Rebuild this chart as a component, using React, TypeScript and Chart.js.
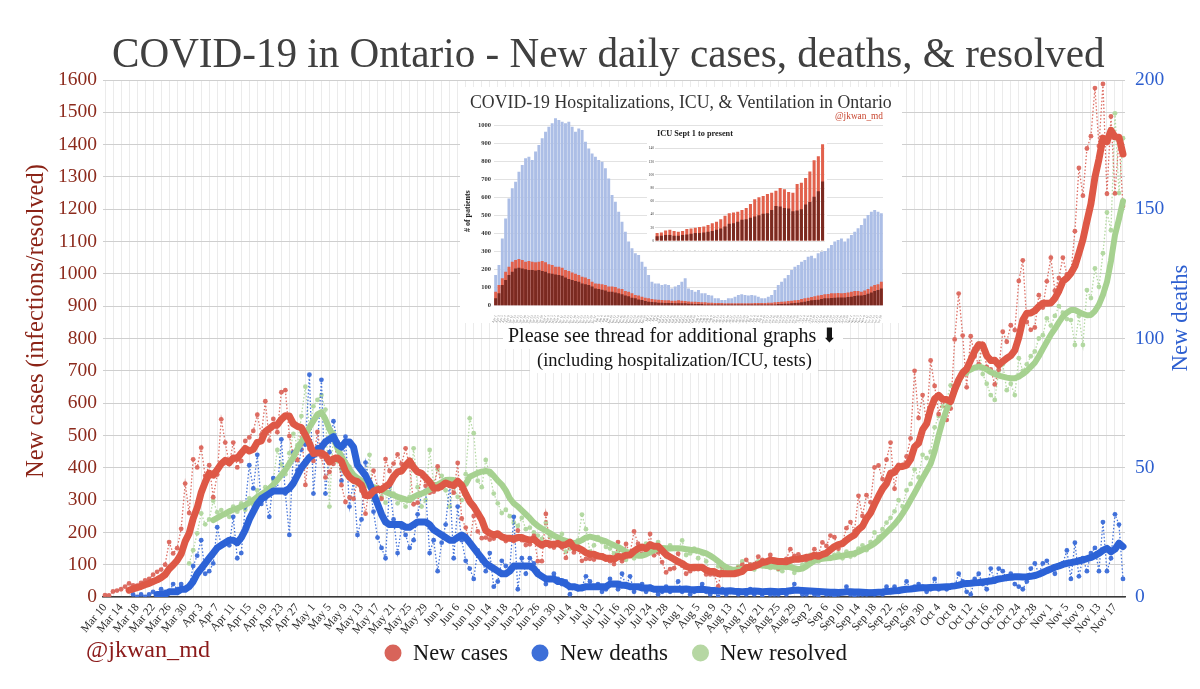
import React, { useEffect, useRef } from 'react';
import { Chart, registerables } from 'chart.js';
Chart.register(...registerables);

const SERIF = "'Liberation Serif', 'DejaVu Serif', serif";

// ---------- labels ----------
const MONTHS = ['Jan', 'Feb', 'Mar', 'Apr', 'May', 'Jun', 'Jul', 'Aug', 'Sep', 'Oct', 'Nov', 'Dec'];
const MONTH_DAYS_2020 = [31, 29, 31, 30, 31, 30, 31, 31, 30, 31, 30, 31];
function makeDates(month: number, day: number, count: number, step: number): string[] {
  const out: string[] = [];
  let m = month, d = day;
  for (let i = 0; i < count; i++) {
    out.push(`${MONTHS[m]} ${d}`);
    d += step;
    while (d > MONTH_DAYS_2020[m]) { d -= MONTH_DAYS_2020[m]; m++; }
  }
  return out;
}
const DAYS = makeDates(2, 10, 255, 1); // Mar 10 .. Nov 19
const INSET_DATES = makeDates(3, 1, 117, 2);
const ICU_DATES = makeDates(8, 1, 40, 2);

const TITLE = 'COVID-19 in Ontario - New daily cases, deaths, & resolved';
const Y_TITLE = 'New cases (infections/resolved)';
const Y2_TITLE = 'New deaths';
const LEGEND_LABELS = ['New cases', 'New deaths', 'New resolved'];
const CREDIT = '@jkwan_md';
const NOTE_1 = 'Please see thread for additional graphs \u2B07';
const NOTE_2 = '(including hospitalization/ICU, tests)';
const INSET_TITLE = 'COVID-19 Hospitalizations, ICU, & Ventilation in Ontario';
const ICU_TITLE = 'ICU Sept 1 to present';

// ---------- main series (Mar 10 .. Nov 19) ----------
const CASES = [
  6, 5, 17, 20, 24, 32, 42, 36, 35, 44, 51, 56, 69, 78, 85, 100, 170, 135, 151, 211, 351, 260,
  426, 401, 462, 375, 408, 309, 379, 550, 478, 411, 478, 401, 421, 483, 494, 514, 564, 502, 606, 484, 551, 510, 634, 640, 498, 437, 424, 525, 347, 459,
  421, 511, 434, 370, 387, 412, 477, 346, 294, 308, 304, 361, 329, 258, 345, 391, 340, 304, 427, 390, 413, 441, 412, 460, 404, 287, 292, 383, 344, 323, 326,
  404, 338, 356, 344, 323, 415, 243, 215, 167, 251, 203, 182, 184, 178, 181, 190, 184, 173, 183, 173, 206, 176, 161, 163, 189, 111, 111, 257, 157, 153,
  181, 153, 121, 165, 138, 154, 112, 118, 118, 116, 130, 129, 116, 111, 102, 170, 111, 164, 135, 203, 165, 134, 138, 195, 129, 138, 108, 76, 86, 89, 134,
  97, 72, 80, 86, 86, 88, 70, 70, 70, 33, 95, 75, 88, 72, 90, 99, 115, 100, 102, 125, 115, 108, 130, 105, 88, 100, 118, 148, 127, 132, 121,
  114, 111, 148, 132, 169, 158, 190, 185, 149, 170, 213, 232, 204, 313, 251, 315, 293, 401, 407, 365, 425, 478, 335, 409, 409, 435, 491, 700, 554, 625,
  538, 732, 653, 566, 615, 548, 583, 797, 939, 809, 649, 807, 746, 721, 783, 712, 704, 658, 704, 821, 790, 841, 826, 978, 1042, 851, 827, 834, 934, 896, 977,
  1050, 948, 987, 1050, 998, 1003, 1132, 1328, 1242, 1388, 1426, 1575, 1396, 1588, 1248, 1487, 1249, 1417, 1210,
];
const CASES_AVG = [
  null, null, null, null, null, null,
  21, 25, 29, 33, 38, 42, 48, 53, 60, 69, 87, 99, 113, 133, 172, 197,
  243, 276, 323, 355, 383, 377, 394, 412, 423, 416, 430, 429, 445, 460, 452, 457, 479, 483, 512, 521, 531, 533, 550, 561, 560, 536, 528, 524, 501, 476,
  444, 446, 446, 438, 418, 428, 430, 420, 389, 371, 361, 357, 346, 314, 314, 328, 333, 333, 342, 351, 373, 387, 390, 407, 421, 401, 387, 383, 369, 356, 337,
  337, 344, 353, 348, 345, 358, 346, 319, 295, 280, 260, 239, 206, 197, 192, 196, 186, 182, 182, 180, 184, 184, 179, 176, 179, 168, 160, 167, 164, 163,
  166, 160, 162, 170, 153, 152, 146, 137, 132, 132, 127, 125, 120, 120, 117, 125, 124, 129, 130, 142, 150, 155, 150, 162, 157, 157, 144, 131, 124, 117, 109,
  104, 95, 91, 92, 92, 92, 83, 79, 79, 72, 73, 72, 72, 72, 75, 79, 91, 91, 95, 100, 107, 109, 114, 112, 110, 110, 109, 114, 117, 117, 119,
  123, 124, 129, 126, 132, 136, 146, 156, 162, 165, 176, 185, 192, 209, 219, 243, 260, 287, 312, 335, 351, 383, 386, 403, 404, 408, 426, 465, 476, 518,
  536, 582, 613, 624, 612, 611, 605, 642, 672, 694, 706, 733, 761, 781, 779, 747, 732, 733, 718, 729, 739, 747, 763, 803, 857, 878, 879, 886, 899, 909, 909,
  910, 924, 947, 977, 987, 1002, 1024, 1064, 1106, 1163, 1217, 1299, 1355, 1420, 1409, 1444, 1424, 1423, 1371,
];
const DEATHS = [
  null, null, null, null, null, null, null,
  1, 0, 1, 0, 1, 2, 1, 3, 2, 2, 5, 3, 5, 3, 4,
  12, 16, 22, 9, 10, 13, 27, 20, 21, 20, 31, 15, 17, 35, 51, 42, 55, 36, 38, 31, 46, 41, 61, 40, 24, 56, 49, 57, 59, 86,
  40, 58, 84, 40, 56, 68, 60, 45, 62, 35, 45, 24, 30, 52, 44, 33, 23, 19, 15, 43, 30, 17, 27, 24, 19, 22, 32, 40, 41, 17, 22,
  10, 21, 28, 44, 15, 35, 22, 14, 11, 7, 18, 14, 10, 17, 4, 6, 14, 12, 11, 31, 3, 15, 9, 15, 13, 10, 8, 5, 7, 9,
  7, 5, 6, 1, 4, 3, 4, 8, 6, 4, 5, 2, 3, 7, 5, 3, 9, 4, 8, 2, 4, 5, 2, 4, 3, 1, 2, 4, 2, 3, 6,
  2, 3, 1, 2, 3, 5, 2, 1, 2, 0, 3, 1, 2, 2, 1, 2, 1, 3, 1, 2, 0, 2, 1, 1, 1, 2, 1, 2, 5, 3, 1,
  1, 2, 1, 0, 2, 1, 1, 0, 1, 2, 4, 1, 0, 1, 1, 1, 2, 1, 2, 1, 4, 2, 4, 2, 3, 6, 3, 4, 5, 4,
  2, 3, 7, 3, 4, 3, 4, 4, 9, 6, 2, 1, 7, 9, 5, 3, 11, 6, 11, 10, 7, 9, 5, 4, 3, 6, 11, 13, 9, 13, 14,
  11, 9, 12, 13, 18, 7, 21, 8, 15, 10, 17, 19, 10, 29, 10, 15, 32, 28, 7,
];
const DEATHS_AVG = [
  null, null, null, null, null, null, null, null, null, null, null, null, null,
  1, 1, 1, 2, 2, 2, 3, 3, 4,
  6, 9, 11, 13, 15, 17, 19, 20, 21, 22, 22, 21, 23, 26, 30, 33, 36, 38, 39, 40, 41, 41, 41, 41, 42, 44, 47, 50, 52, 54,
  55, 57, 58, 60, 61, 62, 59, 58, 60, 60, 58, 51, 49, 47, 44, 40, 36, 32, 29, 28, 28, 28, 28, 27, 27, 28, 29, 29, 29, 28, 26,
  25, 24, 23, 22, 22, 23, 24, 23, 21, 19, 17, 15, 13, 12, 11, 10, 9, 9, 10, 12, 12, 12, 12, 12, 11, 9, 8, 7, 7, 7,
  6, 6, 5, 4, 4, 3.5, 3.5, 4, 4, 4, 4, 4, 4, 5, 5, 5, 4.5, 4.5, 4, 4, 4, 3.5, 3.5, 3.5, 3, 3, 3, 3, 3, 3, 3,
  3, 3.1, 2.9, 2.8, 2.9, 3, 2.8, 2.6, 2.5, 2.3, 2.2, 2.3, 2.4, 2.2, 2.1, 2, 2.1, 2.2, 2.3, 2.2, 2, 2.1, 2.2, 2.1, 2, 2.1, 2.2, 2.4, 2.6, 2.6, 2.5,
  2.4, 2.3, 2.2, 2.1, 2, 1.9, 1.8, 1.8, 1.7, 1.8, 2, 2, 1.9, 1.9, 1.8, 1.7, 1.6, 1.7, 1.8, 1.9, 2.1, 2.2, 2.4, 2.5, 2.8, 3, 3.1, 3.3, 3.5, 3.6,
  3.6, 3.7, 3.8, 3.8, 3.9, 4, 4.1, 4.3, 4.6, 5, 5.2, 5.3, 5.5, 5.6, 5.8, 6, 6.2, 6.5, 7, 7.2, 7.5, 7.6, 7.8, 7.8, 7.7, 7.8, 8, 8.3, 8.8, 9.5, 10.2,
  10.8, 11.5, 12, 12.6, 13, 13.3, 13.6, 14, 14.3, 14.8, 15.3, 16, 16.9, 18, 18.8, 17.5, 18.5, 20.8, 19.5,
];
const RESOLVED = [
  null, null, null, null, null, null, null, null, null, null, null, null, null, null, null, null, null, null, null, null, null,
  104, 145, 197, 259, 225, 240, 298, 262, 269, 255, 248, 280, 264, 290, 270, 305, 285, 330, 300, 340, 318, 362, 455, 410, 380, 445, 505, 470, 560, 651, 525,
  590, 610, 625, 580, 280, 510, 420, 395, 380, 403, 372, 350, 345, 360, 440, 300, 330, 310, 292, 340, 320, 290, 300, 280, 310, 460, 340, 280, 300, 455, 350,
  395, 375, 330, 280, 340, 310, 300, 380, 553, 507, 360, 340, 424, 380, 320, 290, 260, 270, 250, 230, 220, 245, 210, 215, 200, 190, 180, 230, 185, 160,
  170, 195, 140, 150, 170, 175, 255, 210, 140, 160, 185, 170, 155, 150, 135, 140, 125, 115, 140, 120, 140, 150, 165, 155, 160, 170, 145, 125, 160, 150, 148,
  175, 130, 135, 150, 120, 135, 110, 80, 75, 95, 85, 75, 70, 80, 95, 110, 90, 100, 85, 110, 95, 100, 90, 115, 85, 80, 90, 100, 75, 88, 100,
  105, 130, 115, 110, 125, 120, 118, 130, 135, 120, 140, 125, 130, 150, 160, 145, 170, 200, 185, 210, 230, 245, 265, 300, 280, 330, 350, 395, 370, 440,
  430, 450, 525, 560, 590, 610, 655, 650, 660, 700, 690, 740, 760, 785, 690, 660, 625, 610, 700, 720, 640, 660, 625, 739, 700, 720, 745, 760, 800, 810, 862,
  840, 870, 900, 880, 860, 857, 780, 870, 780, 950, 925, 1017, 960, 1064, 1190, 1135, 1497, 1250, 1420,
];
const RESOLVED_AVG = [
  null, null, null, null, null, null, null, null, null, null, null, null, null, null, null, null, null, null, null, null, null, null, null, null, null, null, null,
  238, 245, 252, 258, 265, 270, 274, 280, 285, 292, 300, 310, 318, 326, 336, 348, 362, 378, 393, 413, 432, 458, 480, 500, 525,
  545, 565, 572, 550, 520, 495, 460, 435, 415, 395, 378, 368, 360, 352, 342, 340, 336, 330, 325, 320, 315, 310, 306, 302, 300, 310, 316, 320, 325, 332, 341,
  348, 355, 362, 363, 362, 355, 345, 350, 372, 378, 384, 388, 390, 388, 375, 360, 348, 330, 305, 290, 280, 268, 256, 244, 230, 220, 212, 205, 198, 190,
  184, 178, 174, 170, 166, 170, 176, 184, 187, 184, 180, 176, 172, 166, 160, 155, 148, 140, 135, 132, 128, 128, 132, 138, 145, 150, 152, 151, 150, 151, 151,
  150, 148, 146, 145, 143, 139, 135, 128, 120, 110, 100, 92, 86, 84, 85, 87, 89, 92, 95, 99, 98, 96, 95, 94, 94, 94, 94, 92, 89, 86, 88,
  95, 104, 112, 116, 118, 120, 121, 123, 125, 128, 130, 133, 135, 140, 146, 151, 158, 166, 176, 188, 200, 212, 225, 240, 258, 278, 300, 322, 345, 368,
  390, 412, 450, 500, 545, 580, 610, 640, 670, 690, 698, 704, 710, 713, 710, 704, 696, 690, 685, 682, 679, 677, 677, 682, 690, 700, 712, 725, 745, 768, 790,
  812, 830, 850, 868, 880, 888, 888, 882, 876, 872, 873, 885, 905, 935, 975, 1040, 1120, 1170, 1225,
];

// ---------- inset: hospital / ICU / ventilated (every 2nd day from Apr 1) ----------
const HOSP = [
  170, 226, 374, 485, 596, 652, 689, 744, 781, 819, 828, 809, 856, 893, 930, 967, 994, 1013, 1041, 1031,
  1022, 1013, 1022, 994, 967, 985, 976, 911, 874, 846, 828, 809, 800, 763, 707, 615, 578, 522, 467, 411,
  356, 319, 291, 281, 244, 217, 170, 133, 124, 124, 115, 119, 115, 96, 106, 115, 133, 152, 96, 87,
  78, 87, 69, 69, 59, 56, 41, 41, 31, 31, 41, 41, 50, 59, 63, 59, 56, 59, 56, 50,
  41, 41, 50, 59, 87, 115, 133, 152, 170, 198, 217, 226, 244, 254, 272, 278, 263, 291, 300, 309,
  319, 337, 356, 365, 374, 356, 374, 393, 411, 430, 448, 485, 504, 522, 531, 522, 513,
];
const ICU = [
  78, 115, 152, 189, 217, 244, 254, 259, 254, 244, 248, 244, 241, 244, 248, 241, 230, 226, 217, 217,
  211, 198, 193, 185, 178, 170, 161, 156, 148, 133, 124, 122, 119, 115, 106, 106, 104, 96, 93, 81,
  78, 69, 59, 56, 50, 44, 41, 37, 35, 33, 31, 30, 30, 28, 28, 30, 28, 26, 24, 22,
  22, 20, 19, 19, 17, 17, 15, 15, 15, 13, 13, 13, 13, 13, 13, 13, 13, 13, 15, 15,
  15, 15, 17, 17, 19, 20, 22, 24, 26, 28, 30, 31, 37, 41, 44, 48, 52, 56, 59, 63,
  65, 69, 69, 70, 69, 70, 74, 78, 81, 81, 78, 85, 93, 106, 115, 119, 133,
];
const VENT = [
  41, 69, 115, 143, 170, 189, 207, 211, 207, 202, 198, 198, 196, 198, 193, 189, 180, 178, 174, 170,
  167, 156, 148, 143, 137, 133, 124, 119, 115, 106, 96, 93, 89, 85, 78, 78, 74, 69, 63, 56,
  52, 44, 41, 35, 31, 26, 22, 20, 19, 17, 17, 15, 15, 15, 13, 13, 13, 13, 11, 11,
  9, 9, 9, 7, 7, 7, 7, 6, 6, 6, 6, 6, 6, 6, 6, 6, 6, 6, 6, 6,
  6, 6, 6, 7, 7, 9, 9, 11, 11, 13, 15, 17, 19, 22, 26, 30, 31, 33, 37, 41,
  41, 43, 44, 46, 46, 46, 48, 50, 54, 56, 56, 59, 67, 74, 81, 87, 96,
];
// inner inset: ICU since Sep 1 (every 2nd day)
const ICU_SEPT = [
  12, 13, 16, 17, 15, 14, 15, 18, 19, 20, 21, 22, 24, 27, 29, 33, 38, 42, 43, 44,
  47, 50, 56, 63, 66, 68, 71, 73, 76, 80, 78, 74, 73, 86, 88, 95, 105, 122, 128, 146,
];
const VENT_SEPT = [
  7, 8, 9, 9, 8, 8, 9, 10, 11, 12, 12, 13, 14, 15, 17, 19, 22, 26, 27, 29,
  32, 33, 35, 37, 39, 41, 42, 47, 53, 52, 50, 49, 45, 46, 48, 55, 59, 67, 75, 90,
];

// ---------- colours ----------
const RED = 'rgb(222,88,70)';
const RED_DOT = 'rgba(219,102,92,0.95)';
const BLUE = 'rgb(44,98,214)';
const BLUE_DOT = 'rgba(58,108,216,0.95)';
const GREEN = 'rgb(166,209,144)';
const GREEN_DOT = 'rgba(176,215,158,0.95)';
const HOSP_C = 'rgb(172,190,230)';
const ICU_C = 'rgb(226,97,76)';
const VENT_C = 'rgb(122,42,33)';

// ---------- helpers ----------
type FitOpts = { x: number; y: number; width: number; color: string; align?: CanvasTextAlign; baseline?: CanvasTextBaseline; rotate?: number; weight?: string };
function fitText(ctx: CanvasRenderingContext2D, text: string, o: FitOpts) {
  ctx.save();
  const w = o.weight || 'normal';
  ctx.font = `${w} 100px ${SERIF}`;
  const m = ctx.measureText(text).width;
  const size = (100 * o.width) / m;
  ctx.font = `${w} ${size}px ${SERIF}`;
  ctx.fillStyle = o.color;
  ctx.textAlign = o.align || 'left';
  ctx.textBaseline = o.baseline || 'alphabetic';
  ctx.translate(o.x, o.y);
  if (o.rotate) ctx.rotate(o.rotate);
  ctx.fillText(text, 0, 0);
  ctx.restore();
}

const mainOverlay = {
  id: 'mainOverlay',
  afterDraw(chart: any) {
    const ctx: CanvasRenderingContext2D = chart.ctx;
    fitText(ctx, TITLE, { x: 112, y: 67, width: 993, color: '#404040' });
    fitText(ctx, Y_TITLE, { x: 37, y: 321, width: 314, color: '#8b2316', align: 'center', baseline: 'middle', rotate: -Math.PI / 2 });
    fitText(ctx, Y2_TITLE, { x: 1181, y: 318, width: 107, color: '#2d5fd0', align: 'center', baseline: 'middle', rotate: -Math.PI / 2 });
    // legend
    const legendPos = [
      { cx: 393, tx: 413, tw: 95, c: 'rgb(216,100,90)' },
      { cx: 540, tx: 560, tw: 108, c: 'rgb(61,111,216)' },
      { cx: 700.5, tx: 720, tw: 127, c: 'rgb(182,215,163)' },
    ];
    legendPos.forEach((p, i) => {
      ctx.save();
      ctx.fillStyle = p.c;
      ctx.beginPath();
      ctx.arc(p.cx, 653, 8.5, 0, Math.PI * 2);
      ctx.fill();
      ctx.restore();
      fitText(ctx, LEGEND_LABELS[i], { x: p.tx, y: 660, width: p.tw, color: '#161616' });
    });
    fitText(ctx, CREDIT, { x: 86, y: 657, width: 124, color: '#8b1a1a' });
    // notes
    ctx.save();
    ctx.fillStyle = '#ffffff';
    ctx.fillRect(503, 324, 340, 25);
    ctx.fillRect(530, 349, 288, 24);
    ctx.restore();
    fitText(ctx, NOTE_1, { x: 508, y: 342, width: 330, color: '#151515' });
    fitText(ctx, NOTE_2, { x: 537, y: 366, width: 275, color: '#151515' });
  },
};

function mainConfig() {
  const dotted = (data: any[], color: string, axis: string) => ({
    data, yAxisID: axis, borderColor: color, backgroundColor: color, borderWidth: 1.3, borderDash: [1.5, 2],
    pointRadius: 2.4, pointBorderWidth: 0, pointBackgroundColor: color, tension: 0, spanGaps: false,
  });
  const thick = (data: any[], color: string, axis: string, w: number) => ({
    data, yAxisID: axis, borderColor: color, backgroundColor: color, borderWidth: w, pointRadius: 0,
    tension: 0, borderJoinStyle: 'round', borderCapStyle: 'round', spanGaps: false,
  });
  return {
    type: 'line',
    data: {
      labels: DAYS,
      datasets: [
        thick(CASES_AVG, RED, 'y', 7),
        thick(DEATHS_AVG, BLUE, 'y2', 7),
        thick(RESOLVED_AVG, GREEN, 'y', 6),
        dotted(CASES, RED_DOT, 'y'),
        dotted(DEATHS, BLUE_DOT, 'y2'),
        dotted(RESOLVED, GREEN_DOT, 'y'),
      ],
    },
    options: {
      responsive: false,
      animation: false,
      events: [],
      layout: { padding: { left: 0, right: 0, top: 80, bottom: 0 }, autoPadding: false },
      plugins: { legend: { display: false }, tooltip: { enabled: false }, title: { display: false } },
      scales: {
        x: {
          type: 'category',
          offset: true,
          grid: {
            color: (c: any) => (c.index % 2 === 0 ? '#ebebeb' : 'rgba(0,0,0,0)'),
            lineWidth: 1,
            drawTicks: false,
          },
          border: { display: true, color: '#3a3a3a', width: 1.5 },
          ticks: {
            autoSkip: false,
            minRotation: 50,
            maxRotation: 50,
            padding: 4,
            color: '#2a2a2a',
            font: { family: SERIF, size: 11.5 },
            callback: (_v: any, i: number) => (i % 4 === 0 ? DAYS[i] : ''),
          },
          afterFit: (s: any) => { s.height = 92; },
        },
        y: {
          position: 'left',
          min: 0,
          max: 1600,
          grid: { color: '#cfcfcf', lineWidth: 1, drawTicks: false },
          border: { display: false },
          ticks: {
            stepSize: 50,
            padding: 6,
            color: '#8c2a1c',
            font: { family: SERIF, size: 19.5 },
            callback: (v: any) => (v % 100 === 0 ? String(v) : ''),
          },
          afterFit: (s: any) => { s.width = 103; },
        },
        y2: {
          position: 'right',
          min: 0,
          max: 200,
          grid: { drawOnChartArea: false, drawTicks: false },
          border: { display: false },
          ticks: { stepSize: 50, padding: 10, color: '#2d5fcf', font: { family: SERIF, size: 19.5 } },
          afterFit: (s: any) => { s.width = 75; },
        },
      },
    },
    plugins: [mainOverlay],
  };
}

const insetOverlay = {
  id: 'insetOverlay',
  afterDraw(chart: any) {
    const ctx: CanvasRenderingContext2D = chart.ctx;
    fitText(ctx, INSET_TITLE, { x: 10, y: 20.7, width: 422, color: '#333333' });
    fitText(ctx, CREDIT, { x: 423, y: 31.5, width: 48, color: '#c8452f', align: 'right' });
  },
};

function insetConfig() {
  const bar = (data: number[], color: string) => ({
    type: 'bar', data, backgroundColor: color, borderWidth: 0, grouped: false, barPercentage: 1, categoryPercentage: 0.88,
  });
  return {
    type: 'bar',
    data: { labels: INSET_DATES, datasets: [bar(VENT, VENT_C), bar(ICU, ICU_C), bar(HOSP, HOSP_C)] },
    options: {
      responsive: false,
      animation: false,
      events: [],
      layout: { padding: { left: 0, right: 19, top: 29.7, bottom: 0 }, autoPadding: false },
      plugins: { legend: { display: false }, tooltip: { enabled: false } },
      scales: {
        x: {
          grid: { display: false },
          border: { display: false },
          ticks: { autoSkip: false, minRotation: 70, maxRotation: 70, padding: 1, color: '#777', font: { family: SERIF, size: 3.4 } },
          afterFit: (s: any) => { s.height = 17.3; },
        },
        y: {
          min: 0,
          max: 1050,
          grid: { color: '#e2e2e2', drawTicks: false },
          border: { display: false },
          ticks: { stepSize: 100, padding: 3, color: '#333', font: { family: SERIF, size: 6.5, weight: 'bold' }, callback: (v: any) => String(v) },
          afterBuildTicks: (s: any) => { s.ticks = s.ticks.filter((t: any) => t.value <= 1000); },
          title: { display: true, text: '# of patients', color: '#222', font: { family: SERIF, size: 8, weight: 'bold' }, padding: { top: 3, bottom: 0 } },
          afterFit: (s: any) => { s.width = 34; },
        },
      },
    },
    plugins: [insetOverlay],
  };
}

const icuOverlay = {
  id: 'icuOverlay',
  afterDraw(chart: any) {
    fitText(chart.ctx, ICU_TITLE, { x: 10, y: 8.7, width: 76, color: '#222', weight: 'bold' });
  },
};

function icuConfig() {
  const bar = (data: number[], color: string) => ({
    type: 'bar', data, backgroundColor: color, borderWidth: 0, grouped: false, barPercentage: 1, categoryPercentage: 0.72,
  });
  return {
    type: 'bar',
    data: { labels: ICU_DATES, datasets: [bar(VENT_SEPT, VENT_C), bar(ICU_SEPT, ICU_C)] },
    options: {
      responsive: false,
      animation: false,
      events: [],
      layout: { padding: { left: 0, right: 2, top: 14.7, bottom: 0 }, autoPadding: false },
      plugins: { legend: { display: false }, tooltip: { enabled: false } },
      scales: {
        x: {
          grid: { display: false },
          border: { display: false },
          ticks: { autoSkip: false, minRotation: 70, maxRotation: 70, padding: 1, color: '#777', font: { family: SERIF, size: 3 } },
          afterFit: (s: any) => { s.height = 10; },
        },
        y: {
          min: 0,
          max: 150,
          grid: { color: '#e0e0e0', drawTicks: false },
          border: { display: false },
          ticks: { stepSize: 10, padding: 1, color: '#333', font: { family: SERIF, size: 3.6 }, callback: (v: any) => String(v) },
          afterFit: (s: any) => { s.width = 8; },
        },
      },
    },
    plugins: [icuOverlay],
  };
}

export default function App() {
  const mainRef = useRef<HTMLCanvasElement>(null);
  const insetRef = useRef<HTMLCanvasElement>(null);
  const icuRef = useRef<HTMLCanvasElement>(null);

  useEffect(() => {
    const charts: any[] = [];
    if (mainRef.current) charts.push(new Chart(mainRef.current, mainConfig() as any));
    if (insetRef.current) charts.push(new Chart(insetRef.current, insetConfig() as any));
    if (icuRef.current) charts.push(new Chart(icuRef.current, icuConfig() as any));
    return () => charts.forEach((c) => c.destroy());
  }, []);

  return (
    <div style={{ position: 'absolute', left: 0, top: 0, width: 1200, height: 689, background: '#ffffff', overflow: 'hidden' }}>
      <canvas ref={mainRef} width={1200} height={689} style={{ position: 'absolute', left: 0, top: 0, width: 1200, height: 689 }} />
      <div style={{ position: 'absolute', left: 460, top: 87, width: 442, height: 236, background: '#ffffff' }}>
        <canvas ref={insetRef} width={442} height={236} style={{ position: 'absolute', left: 0, top: 0, width: 442, height: 236 }} />
        <div style={{ position: 'absolute', left: 187, top: 40, width: 180, height: 124, background: '#ffffff' }}>
          <canvas ref={icuRef} width={180} height={124} style={{ position: 'absolute', left: 0, top: 0, width: 180, height: 124 }} />
        </div>
      </div>
    </div>
  );
}
